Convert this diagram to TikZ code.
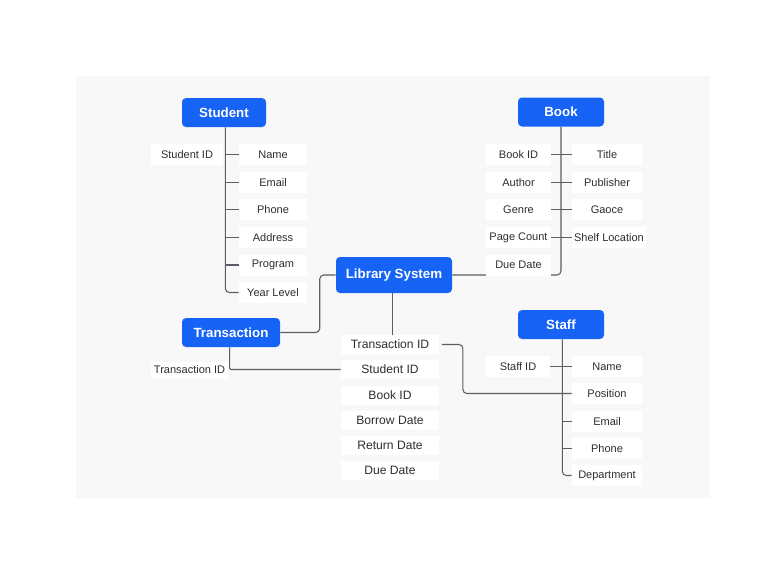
\documentclass[tikz,border=0pt]{standalone}
\usepackage{fontspec}
\setmainfont{Liberation Sans}
\pgfdeclarelayer{bg}
\pgfdeclarelayer{lines}
\pgfsetlayers{bg,lines,main}
\definecolor{panel}{HTML}{F8F8F8}
\definecolor{eblue}{RGB}{22,99,245}
\definecolor{lnk}{HTML}{5A5E66}
\definecolor{txt}{HTML}{2E2E2E}
\begin{document}
\begin{tikzpicture}[x=0.75pt,y=-0.75pt,
  entity/.style={fill=eblue,rounded corners=3pt,text=white,inner sep=0,
    minimum height=21.75pt,font=\fontsize{10}{12}\selectfont\bfseries},
  attr/.style={fill=white,inner sep=0,minimum height=15.75pt,text=txt,
    font=\fontsize{8.25}{10}\selectfont},
  mattr/.style={attr,minimum width=73.5pt,minimum height=14.25pt,
    font=\fontsize{9.1}{11}\selectfont},
  link/.style={draw=lnk,line width=0.8pt,rounded corners=3pt}]
\useasboundingbox (0,0) rectangle (768,576);
\begin{pgfonlayer}{bg}
\fill[white] (0,0) rectangle (768,576);
\fill[panel] (76,76) rectangle (710,498);
\end{pgfonlayer}

% Entities
\node[entity,minimum width=63pt] (student) at (224,112.5) {Student};
\node[entity,minimum width=64.5pt] (book) at (561,112) {Book};
\node[entity,minimum width=87pt,minimum height=27pt] (library) at (394,275) {Library System};
\node[entity,minimum width=73.5pt] (transaction) at (231,332.5) {Transaction};
\node[entity,minimum width=64.5pt] (staff) at (561,324.5) {Staff};

% Student attributes
\node[attr,minimum width=54pt] (sid) at (187,154.5) {Student ID};
\node[attr,minimum width=51pt] (sname) at (273,154.5) {Name};
\node[attr,minimum width=51pt] (semail) at (273,182.5) {Email};
\node[attr,minimum width=51pt] (sphone) at (273,209.5) {Phone};
\node[attr,minimum width=51pt] (saddr) at (273,237.5) {Address};
\node[attr,minimum width=51pt] (sprog) at (273,265) {Program};
\node[attr,minimum width=51pt] (syear) at (273,292.5) {Year Level};

% Book attributes
\node[attr,minimum width=48.75pt] (bid) at (518.5,154.5) {Book ID};
\node[attr,minimum width=48.75pt] (bauthor) at (518.5,182.5) {Author};
\node[attr,minimum width=48.75pt] (bgenre) at (518.5,209.5) {Genre};
\node[attr,minimum width=48.75pt] (bpage) at (518.5,237.5) {Page Count};
\node[attr,minimum width=48.75pt] (bdue) at (518.5,265) {Due Date};
\node[attr,minimum width=52.5pt] (btitle) at (607,154.5) {Title};
\node[attr,minimum width=52.5pt] (bpub) at (607,182.5) {Publisher};
\node[attr,minimum width=52.5pt] (bgaoce) at (607,209.5) {Gaoce};
\node[attr,minimum width=55.5pt] (bshelf) at (609,237.5) {Shelf Location};

% Transaction attributes (middle column)
\node[mattr] (mtid) at (390,344.5) {Transaction ID};
\node[mattr] (msid) at (390,369.5) {Student ID};
\node[mattr] (mbid) at (390,395) {Book ID};
\node[mattr] (mborrow) at (390,420) {Borrow Date};
\node[mattr] (mreturn) at (390,445) {Return Date};
\node[mattr] (mdue) at (390,470) {Due Date};
\node[attr,minimum width=57.75pt,minimum height=12.75pt] (ttid) at (189.5,370) {Transaction ID};

% Staff attributes
\node[attr,minimum width=48pt] (stid) at (518,366.5) {Staff ID};
\node[attr,minimum width=52.5pt] (stname) at (607,366.5) {Name};
\node[attr,minimum width=52.5pt] (stpos) at (607,393.5) {Position};
\node[attr,minimum width=52.5pt] (stemail) at (607,421.5) {Email};
\node[attr,minimum width=52.5pt] (stphone) at (607,448.5) {Phone};
\node[attr,minimum width=52.5pt] (stdept) at (607,475.5) {Department};

\begin{pgfonlayer}{lines}
% Student
\coordinate (sv) at ([xshift=1]student.south);
\draw[link] (sv) -- (sv |- syear.west) -- (syear.west);
\foreach \n in {sname,semail,sphone,saddr,sprog}
  \draw[link] (sv |- \n.west) -- (\n.west);
% Book
\draw[link] (library.east) -- (book.south |- library.east) -- (book.south);
\draw[link] (bid.east) -- (btitle.west);
\draw[link] (bauthor.east) -- (bpub.west);
\draw[link] (bgenre.east) -- (bgaoce.west);
\draw[link] (bpage.east) -- (bshelf.west);
% Library to Transaction
\draw[link] (library.west) -- ++(-16,0) |- (transaction.east);
\draw[link] ([xshift=-1]library.south) -- ([xshift=-1]library.south |- mtid.north);
% Transaction
\draw[link,rounded corners=1pt] ([xshift=-1]transaction.south) -- ([xshift=-1]transaction.south |- msid.west) -- (msid.west);
% Transaction ID to Staff Position
\draw[link] ([xshift=2]mtid.east) -- ++(21,0) |- (stpos.west);
% Staff
\coordinate (stv) at ([xshift=1]staff.south);
\draw[link] (stv) -- (stv |- stdept.west) -- (stdept.west);
\draw[link] (stid.east) -- (stname.west);
\foreach \n in {stemail,stphone}
  \draw[link] (stv |- \n.west) -- (\n.west);
\end{pgfonlayer}
\end{tikzpicture}
\end{document}
